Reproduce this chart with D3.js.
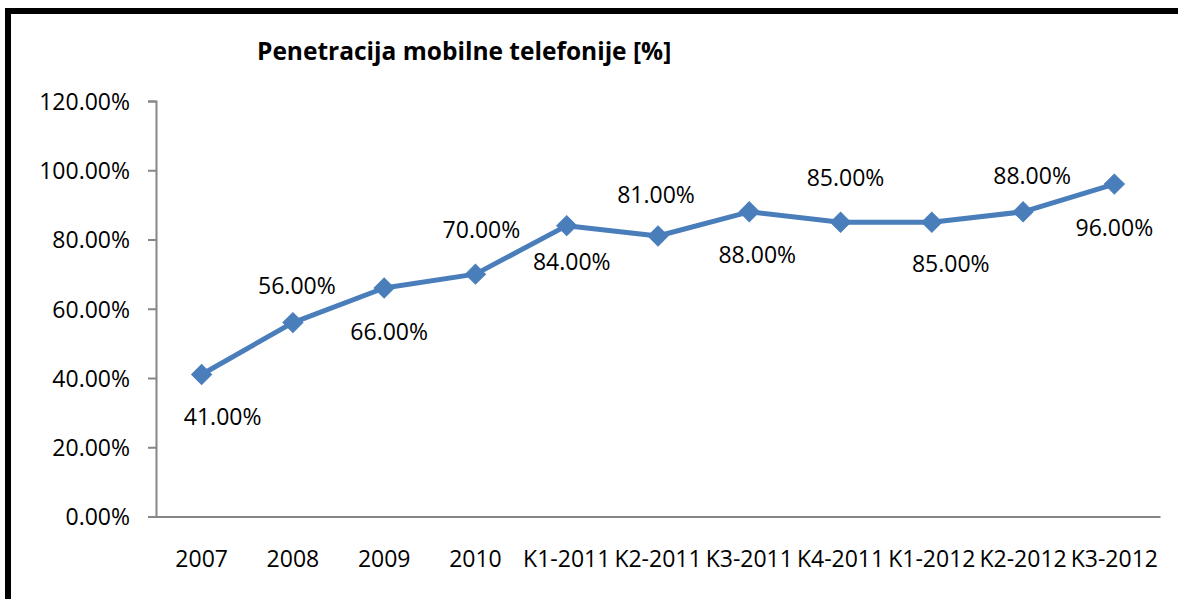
<!DOCTYPE html>
<html><head><meta charset="utf-8">
<script src="https://cdn.jsdelivr.net/npm/d3@7"></script>
<style>html,body{margin:0;padding:0;background:#fff;}svg{display:block;}</style>
</head><body>
<svg id="chart" width="1178" height="599"></svg>
<script>
const title = "Penetracija mobilne telefonije [%]";
const categories = ["2007","2008","2009","2010","K1-2011","K2-2011","K3-2011","K4-2011","K1-2012","K2-2012","K3-2012"];
const values = [0.41,0.56,0.66,0.70,0.84,0.81,0.88,0.85,0.85,0.88,0.96];
const yTicks = [0,0.2,0.4,0.6,0.8,1.0,1.2];
// label placement (layout): above (-1) or below (+1), and small horizontal nudges
const labelSide = [1,-1,1,-1,1,-1,1,-1,1,-1,1];
const labelDx = [21,4,5,6,5,-2,8,5,19,9,0];
const labelDy = [42,37,44,44,36,41,43,44,42,36,44];

const svg = d3.select("#chart");
const font = "'Open Sans', 'Liberation Sans', sans-serif";
const blue = "#4A7EBB";
const axisColor = "#868686";

// outer chart border
svg.append("rect").attr("x",8).attr("y",11).attr("width",1300).attr("height",800)
  .attr("fill","none").attr("stroke","#000").attr("stroke-width",6);

const pLeft = 156, pRight = 1160, pTop = 101, pBottom = 516.5;
const x = d3.scaleBand().domain(categories).range([pLeft,pRight]).padding(0);
const y = d3.scaleLinear().domain([0,1.2]).range([pBottom,pTop]);

// title
svg.append("text").attr("x",257).attr("y",60)
  .attr("font-family",font).attr("font-weight","bold").attr("font-size",24.5)
  .attr("fill","#000").text(title);

// y axis
const yAxis = svg.append("g").attr("transform",`translate(${pLeft},0)`)
  .call(d3.axisLeft(y).tickValues(yTicks).tickFormat(d3.format(".2%")).tickSize(8).tickPadding(18));
yAxis.select(".domain").attr("stroke",axisColor).attr("stroke-width",2);
yAxis.selectAll(".tick line").attr("stroke",axisColor).attr("stroke-width",2);
yAxis.selectAll(".tick text").attr("font-family",font).attr("font-size",23).attr("fill","#000")
  .attr("dy","0.36em");

// x axis
const xAxis = svg.append("g").attr("transform",`translate(0,${pBottom})`)
  .call(d3.axisBottom(x).tickSize(0).tickPadding(0));
xAxis.select(".domain").attr("stroke",axisColor).attr("stroke-width",2);
xAxis.selectAll(".tick text").attr("font-family",font).attr("font-size",23).attr("fill","#000")
  .attr("dy","0").attr("y",50);

const cx = d => x(d) + x.bandwidth()/2;

// line
svg.append("path").datum(values.map((v,i)=>[cx(categories[i]), y(v)]))
  .attr("d", d3.line()).attr("fill","none").attr("stroke",blue)
  .attr("stroke-width",5).attr("stroke-linejoin","round");

// markers (diamonds)
svg.selectAll(".marker").data(values).join("path").attr("class","marker")
  .attr("d", d3.symbol(d3.symbolSquare, 200))
  .attr("transform",(v,i)=>`translate(${cx(categories[i])},${y(v)}) rotate(45)`)
  .attr("fill",blue).attr("stroke",blue).attr("stroke-width",1);

// data labels
svg.selectAll(".dlabel").data(values).join("text").attr("class","dlabel")
  .attr("x",(v,i)=>cx(categories[i]) + labelDx[i])
  .attr("y",(v,i)=>y(v) + labelSide[i]*labelDy[i])
  .attr("dy","0.36em").attr("text-anchor","middle")
  .attr("font-family",font).attr("font-size",23).attr("fill","#000")
  .text(v=>d3.format(".2%")(v));
</script>
</body></html>
